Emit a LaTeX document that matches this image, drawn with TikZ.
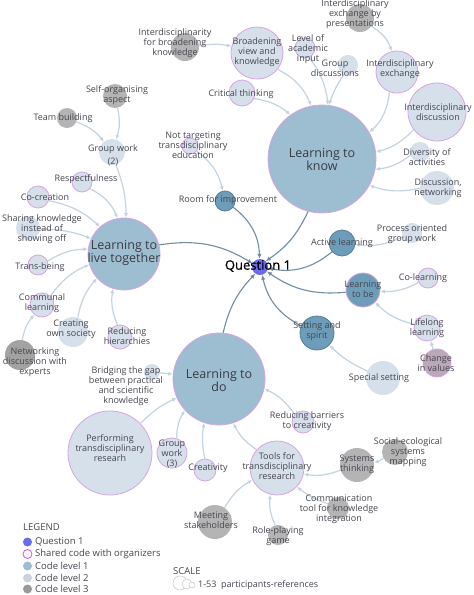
\documentclass[tikz,border=0pt]{standalone}
\usepackage{fontspec}
\setmainfont{Open Sans}
\newfontface\qfont{Open Sans}[FakeBold=0.7]
\usetikzlibrary{arrows.meta}
\definecolor{lone}{HTML}{9DBDD1}
\definecolor{lonedark}{HTML}{6E9DB9}
\definecolor{ltwo}{HTML}{D6E0EA}
\definecolor{lthree}{HTML}{B4B4B4}
\definecolor{pinkb}{HTML}{D9A3E3}
\definecolor{pinkl}{HTML}{E050D0}
\definecolor{qblue}{HTML}{6B6BF2}
\definecolor{txt}{HTML}{45454F}
\definecolor{edgedark}{HTML}{6F8DA3}
\definecolor{edgelight}{HTML}{C3D4E0}
\definecolor{mauve}{HTML}{BBA8B8}
\begin{document}
\begin{tikzpicture}[x=1pt,y=-1pt,
  bub/.style={circle,inner sep=0pt,minimum size=#1},
  cone/.style={bub=#1,fill=lone,draw=pinkb,line width=0.8pt},
  conedark/.style={bub=#1,fill=lonedark,draw=pinkb,line width=0.8pt},
  ctwo/.style={bub=#1,fill=ltwo},
  ctwop/.style={bub=#1,fill=ltwo,draw=pinkb,line width=0.8pt},
  cthree/.style={bub=#1,fill=lthree},
  lab/.style={text=txt,font=\fontsize{9}{10}\selectfont,align=center,inner sep=0pt},
  big/.style={text=txt!85!black,font=\fontsize{12.5}{13}\selectfont,align=center,inner sep=0pt},
  eone/.style={draw=edgedark,line width=1.1pt,-{Latex[length=5pt,width=4.5pt]}},
  etwo/.style={draw=edgelight,line width=1.2pt,-{Latex[length=4.5pt,width=4pt]}},
  legtxt/.style={text=txt,font=\fontsize{9.5}{10}\selectfont,anchor=west,inner sep=0pt}
]
\fill[white] (0,0) rectangle (474,595);
\useasboundingbox (0,0) rectangle (474,595);

% level 1
\node[cone=108] (ltk) at (322,159) {};
\node[cone=72] (ltlt) at (124,254) {};
\node[cone=92] (ltd) at (219,379) {};
\node[conedark=34] (ltb) at (363,290) {};
\node[conedark=34,draw=lonedark!80!black] (ss) at (317,333) {};
\node[conedark=26,draw=lonedark!80!black] (al) at (342,243) {};
\node[conedark=20,draw=lonedark!80!black] (rfi) at (225,201) {};
\node[bub=16,fill=qblue] (q) at (260,267) {};

% around learning to know
\node[ctwop=16] (nt) at (190,146) {};
\node[ctwop=52] (bv) at (257,53) {};
\node[cthree=28] (ifbk) at (185,47) {};
\node[ctwop=26] (ct) at (242,93) {};
\node[ctwop=20] (lai) at (305,48) {};
\node[ctwo=20] (gd) at (348,65) {};
\node[cthree=28] (iebp) at (360,18) {};
\node[ctwop=42] (ie) at (397,72) {};
\node[ctwop=58] (id) at (437,112) {};
\node[ctwo=20] (da) at (420,152) {};
\node[ctwo=34] (dn) at (437,188) {};

% right side
\node[ctwo=20] (pogw) at (412,233) {};
\node[ctwop=20] (col) at (428,278) {};
\node[ctwop=26] (ll) at (427,328) {};
\node[bub=28,fill=mauve,draw=pinkb,line width=0.8pt] (civ) at (437,363) {};
\node[ctwo=34] (sps) at (383,378) {};

% around learning to live together
\node[ctwo=26] (gw2) at (112,152) {};
\node[cthree=24] (soa) at (115,96) {};
\node[cthree=20] (tb) at (67,118) {};
\node[ctwop=20] (resp) at (82,182) {};
\node[ctwop=22] (cocr) at (38,197) {};
\node[ctwo=24] (share) at (28,228) {};
\node[ctwop=20] (trans) at (38,265) {};
\node[ctwop=24] (comm) at (42,305) {};
\node[ctwo=30] (cos) at (73,332) {};
\node[ctwop=24] (rh) at (120,337) {};
\node[cthree=30,fill=lthree!90!black] (net) at (20,355) {};

% around learning to do
\node[ctwo=16] (btg) at (152,372) {};
\node[ctwop=84] (ptr) at (110,453) {};
\node[ctwop=30] (gw3) at (172,453) {};
\node[ctwop=22] (cre) at (205,470) {};
\node[ctwop=22] (rbc) at (303,422) {};
\node[ctwop=54] (tools) at (277,468) {};
\node[cthree=34] (sys) at (357,465) {};
\node[cthree=26] (ses) at (395,452) {};
\node[cthree=22] (ctki) at (338,508) {};
\node[cthree=20] (rpg) at (278,535) {};
\node[cthree=34] (ms) at (215,522) {};

% edges to question
\draw[eone] (ltk) to[bend left=15] (q);
\draw[eone] (rfi) to[bend left=25] (q);
\draw[eone] (ltlt) to[bend left=20] (q);
\draw[eone] (al) to[bend left=25] (q);
\draw[eone] (ltb) to[bend left=20] (q);
\draw[eone] (ss) to[bend left=25] (q);
\draw[eone] (ltd) to[bend left=15] (q);

% edges level 2/3
\draw[etwo] (bv) to[bend left=20] (ltk);
\draw[etwo] (ct) to[bend left=15] (ltk);
\draw[etwo] (lai) to[bend left=15] (ltk);
\draw[etwo] (gd) to[bend right=8] (ltk);
\draw[etwo] (ie) to[bend left=20] (ltk);
\draw[etwo] (iebp) to[bend left=20] (ie);
\draw[etwo] (id) to[bend left=15] (ltk);
\draw[etwo] (da) to[bend left=15] (ltk);
\draw[etwo] (dn) to[bend left=15] (ltk);
\draw[etwo] (ifbk) to[bend left=10] (bv);
\draw[etwo] (nt) to[bend left=20] (rfi);

\draw[etwo] (gw2) to[bend left=10] (ltlt);
\draw[etwo] (soa) to[bend left=15] (gw2);
\draw[etwo] (tb) to[bend left=15] (gw2);
\draw[etwo] (resp) to[bend left=20] (ltlt);
\draw[etwo] (cocr) to[bend left=15] (ltlt);
\draw[etwo] (share) to[bend left=10] (ltlt);
\draw[etwo] (trans) to[bend left=15] (ltlt);
\draw[etwo] (comm) to[bend left=15] (ltlt);
\draw[etwo] (cos) to[bend left=15] (ltlt);
\draw[etwo] (rh) to[bend left=15] (ltlt);
\draw[etwo] (net) to[bend left=15] (comm);

\draw[etwo] (btg) -- (ltd);
\draw[etwo] (ptr) to[bend left=10] (ltd);
\draw[etwo] (gw3) to[bend left=15] (ltd);
\draw[etwo] (cre) to[bend left=10] (ltd);
\draw[etwo] (tools) to[bend left=15] (ltd);
\draw[etwo] (rbc) to[bend right=15] (ltd);
\draw[etwo] (ms) to[bend left=15] (tools);
\draw[etwo] (rpg) to[bend left=15] (tools);
\draw[etwo] (ctki) to[bend left=10] (tools);
\draw[etwo] (sys) to[bend left=15] (tools);
\draw[etwo] (ses) to[bend left=10] (sys);

\draw[etwo] (pogw) to[bend left=15] (al);
\draw[etwo] (col) to[bend left=15] (ltb);
\draw[etwo] (ll) to[bend left=15] (ltb);
\draw[etwo] (civ) -- (ll);
\draw[etwo] (sps) to[bend left=10] (ss);

% labels
\node[text=black,font=\qfont\fontsize{13}{14}\selectfont,inner sep=0pt] (tq) at (258,266) {Question 1};
\node[big] (tltk) at (322,159) {Learning to\\know};
\node[big] (tltlt) at (124,253) {Learning to\\live together};
\node[big] (tltd) at (219,380) {Learning to\\do};
\node[lab] (tltb) at (363,289) {Learning\\to be};
\node[lab] (tss) at (317,331) {Setting and\\spirit};
\node[lab] (tal) at (342,243) {Active learning};
\node[lab] (trfi) at (228,200) {Room for improvement};
\node[lab] (tnt) at (193,145) {Not targeting\\transdisciplinary\\education};
\node[lab] (tbv) at (257,52) {Broadening\\view and\\knowledge};
\node[lab] (tifbk) at (175,43) {Interdisciplinarity\\for broadening\\knowledge};
\node[lab] (tct) at (241,94) {Critical thinking};
\node[lab] (tlai) at (308,49) {Level of\\academic\\input};
\node[lab] (tgd) at (335,68) {Group\\discussions};
\node[lab] (tiebp) at (355,14) {Interdisciplinary\\exchange by\\presentations};
\node[lab] (tie) at (400,69) {Interdisciplinary\\exchange};
\node[lab] (tid) at (438,112) {Interdisciplinary\\discussion};
\node[lab] (tda) at (427,157) {Diversity of\\activities};
\node[lab] (tdn) at (438,188) {Discussion,\\networking};
\node[lab] (tpogw) at (412,234) {Process oriented\\group work};
\node[lab] (tcol) at (423,278) {Co-learning};
\node[lab] (tll) at (427,328) {Lifelong\\learning};
\node[lab] (tciv) at (436,363) {Change\\in values};
\node[lab] (tsps) at (379,378) {Special setting};
\node[lab] (tgw2) at (113,155) {Group work\\[3pt](2)};
\node[lab] (tsoa) at (117,95) {Self-organising\\aspect};
\node[lab] (ttb) at (63,118) {Team building};
\node[lab] (tresp) at (86,179) {Respectfulness};
\node[lab] (tcocr) at (45,197) {Co-creation};
\node[lab] (tshare) at (42,229) {Sharing knowledge\\instead of\\showing off};
\node[lab] (ttrans) at (40,267) {Trans-being};
\node[lab] (tcomm) at (42,303) {Communal\\learning};
\node[lab] (tcos) at (71,329) {Creating\\own society};
\node[lab] (trh) at (127,336) {Reducing\\hierarchies};
\node[lab] (tnet) at (35,362) {Networking\\discussion with\\experts};
\node[lab] (tbtg) at (126,386) {Bridging the gap\\between practical\\and scientific\\knowledge};
\node[lab] (tptr) at (110,448) {Performing\\transdisciplinary\\researh};
\node[lab] (tgw3) at (172,454) {Group\\work\\(3)};
\node[lab] (tcre) at (208,468) {Creativity};
\node[lab] (trbc) at (307,421) {Reducing barriers\\to creativity};
\node[lab] (ttools) at (277,466) {Tools for\\transdisciplinary\\research};
\node[lab] (tsys) at (357,464) {Systems\\thinking};
\node[lab] (tses) at (408,452) {Social-ecological\\systems\\mapping};
\node[lab] (tctki) at (339,509) {Communication\\tool for knowledge\\integration};
\node[lab] (trpg) at (278,536) {Role-playing\\game};
\node[lab] (tms) at (211,520) {Meeting\\stakeholders};

% legend
\node[legtxt] (leg) at (23,527) {LEGEND};
\node[bub=9,fill=qblue] (lg1) at (27.5,542) {};
\node[legtxt] (lt1) at (35,542) {Question 1};
\node[bub=9,fill=white,draw=pinkl,line width=0.8pt] (lg2) at (27.5,554) {};
\node[legtxt] (lt2) at (35,554) {Shared code with organizers};
\node[bub=9,fill=lone] (lg3) at (27.5,566) {};
\node[legtxt] (lt3) at (35,566) {Code level 1};
\node[bub=9,fill=ltwo!70!lthree] (lg4) at (27.5,578) {};
\node[legtxt] (lt4) at (35,578) {Code level 2};
\node[bub=9,fill=lthree!85!black] (lg5) at (27.5,589) {};
\node[legtxt] (lt5) at (35,589) {Code level 3};

% scale
\node[legtxt] (sc) at (173,571) {SCALE};
\node[bub=14,draw=lthree!70,fill=white,line width=0.6pt] (s1) at (180,583) {};
\node[bub=10,draw=lthree!70,fill=white,line width=0.6pt] (s2) at (187,584) {};
\node[bub=6,draw=lthree!70,fill=white,line width=0.6pt] (s3) at (192,585) {};
\node[legtxt,font=\fontsize{9}{10}\selectfont] (st) at (198,585) {1-53\ \ participants-references};
\end{tikzpicture}
\end{document}
